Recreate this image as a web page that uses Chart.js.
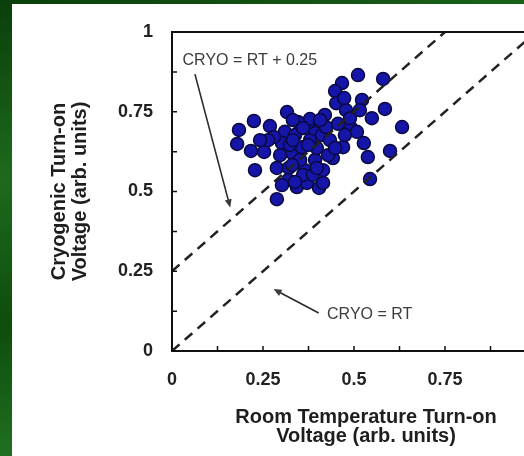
<!DOCTYPE html>
<html>
<head>
<meta charset="utf-8">
<script src="https://cdn.jsdelivr.net/npm/chart.js@4.4.1/dist/chart.umd.min.js"></script>
<style>
  html, body { margin: 0; padding: 0; }
  body {
    width: 524px; height: 456px; overflow: hidden; position: relative;
    background: linear-gradient(165deg, #0a3f0a 0%, #1d6a1d 30%, #0d4d0d 55%, #237523 80%, #0f520f 100%);
  }
  #wrap {
    position: absolute; left: 12px; top: 4px;
    width: 560px; height: 452px; background: #fff;
  }
</style>
</head>
<body>
<div id="wrap"><canvas id="chart"></canvas></div>
<script>
// room temperature turn-on voltage (x) vs cryogenic turn-on voltage (y)
const rtVoltage = [0.184, 0.225, 0.316, 0.269, 0.179, 0.217, 0.253, 0.228, 0.288, 0.288,
  0.310, 0.338, 0.376, 0.302, 0.330, 0.357, 0.393, 0.321, 0.343, 0.371,
  0.365, 0.393, 0.404, 0.511, 0.580, 0.467, 0.448, 0.522, 0.451, 0.478,
  0.585, 0.549, 0.516, 0.632, 0.420, 0.379, 0.456, 0.492, 0.412, 0.470,
  0.527, 0.599, 0.538, 0.544, 0.442, 0.415, 0.398, 0.280, 0.352, 0.319,
  0.434, 0.346, 0.264, 0.379, 0.297, 0.423, 0.489, 0.508, 0.473, 0.360,
  0.324, 0.407, 0.242, 0.302, 0.475, 0.387, 0.332, 0.360, 0.332, 0.374,
  0.429, 0.330, 0.398, 0.338, 0.415, 0.448];
const cryoVoltage = [0.693, 0.721, 0.749, 0.705, 0.649, 0.627, 0.624, 0.567, 0.476, 0.574,
  0.687, 0.677, 0.708, 0.652, 0.621, 0.639, 0.683, 0.574, 0.514, 0.527,
  0.567, 0.599, 0.511, 0.865, 0.853, 0.840, 0.815, 0.787, 0.777, 0.755,
  0.759, 0.730, 0.755, 0.702, 0.740, 0.727, 0.712, 0.699, 0.677, 0.639,
  0.652, 0.627, 0.608, 0.539, 0.605, 0.567, 0.636, 0.671, 0.599, 0.536,
  0.661, 0.718, 0.661, 0.661, 0.614, 0.702, 0.730, 0.687, 0.793, 0.552,
  0.646, 0.724, 0.661, 0.520, 0.677, 0.552, 0.724, 0.699, 0.661, 0.646,
  0.614, 0.583, 0.574, 0.530, 0.527, 0.636];

// reference lines
const equalLine = [[0, 0], [1, 1]];
const offsetLine = [[0, 0.25], [0.75, 1]];

// notes: text, text anchor, arrow start, arrow tip (data units)
const notes = [
  { text: 'CRYO = RT + 0.25', at: [0.029, 0.897], from: [0.063, 0.868], to: [0.160, 0.450] },
  { text: 'CRYO = RT', at: [0.426, 0.101], from: [0.403, 0.119], to: [0.279, 0.194] }
];

const xTitle = ['Room Temperature Turn-on', 'Voltage (arb. units)'];
const yTitle = ['Cryogenic Turn-on', 'Voltage (arb. units)'];

const toPoints = (xs, ys) => xs.map((x, i) => ({ x: x, y: ys[i] }));
const quarterLabel = v => (Math.abs(v * 4 - Math.round(v * 4)) < 1e-9 ? String(v) : '');

function arrow(ctx, x1, y1, x2, y2) {
  const a = Math.atan2(y2 - y1, x2 - x1);
  ctx.beginPath();
  ctx.moveTo(x1, y1);
  ctx.lineTo(x2 - 4 * Math.cos(a), y2 - 4 * Math.sin(a));
  ctx.stroke();
  ctx.beginPath();
  ctx.moveTo(x2, y2);
  ctx.lineTo(x2 - 8 * Math.cos(a) + 3.5 * Math.sin(a), y2 - 8 * Math.sin(a) - 3.5 * Math.cos(a));
  ctx.lineTo(x2 - 8 * Math.cos(a) - 3.5 * Math.sin(a), y2 - 8 * Math.sin(a) + 3.5 * Math.cos(a));
  ctx.closePath();
  ctx.fill();
}

const decor = {
  id: 'decor',
  afterDraw(chart) {
    const ctx = chart.ctx;
    const area = chart.chartArea;
    const xs = chart.scales.x, ys = chart.scales.y;
    ctx.save();

    // frame
    ctx.strokeStyle = '#111';
    ctx.lineWidth = 2;
    ctx.strokeRect(area.left, area.top, area.right - area.left, area.bottom - area.top);

    // inward tick marks
    ctx.lineWidth = 1.5;
    ctx.beginPath();
    ys.ticks.forEach(t => {
      const py = ys.getPixelForValue(t.value);
      ctx.moveTo(area.left, py);
      ctx.lineTo(area.left + 5, py);
    });
    xs.ticks.forEach(t => {
      const px = xs.getPixelForValue(t.value);
      ctx.moveTo(px, area.bottom);
      ctx.lineTo(px, area.bottom - 5);
    });
    ctx.stroke();

    // notes with arrows
    ctx.fillStyle = '#3c3c3c';
    ctx.strokeStyle = '#2a2a2a';
    ctx.lineWidth = 1.6;
    ctx.font = '16px "Liberation Sans", Arial, sans-serif';
    ctx.textAlign = 'left';
    ctx.textBaseline = 'alphabetic';
    notes.forEach(n => {
      ctx.fillText(n.text, xs.getPixelForValue(n.at[0]), ys.getPixelForValue(n.at[1]));
      arrow(ctx,
        xs.getPixelForValue(n.from[0]), ys.getPixelForValue(n.from[1]),
        xs.getPixelForValue(n.to[0]), ys.getPixelForValue(n.to[1]));
    });

    // x axis title
    ctx.fillStyle = '#1e1e1e';
    ctx.font = 'bold 20px "Liberation Sans", Arial, sans-serif';
    ctx.textAlign = 'center';
    const cx = (area.left + area.right) / 2 + 12;
    xTitle.forEach((line, i) => ctx.fillText(line, cx, area.bottom + 72 + i * 19));
    ctx.restore();
  }
};

new Chart(document.getElementById('chart'), {
  type: 'scatter',
  data: {
    datasets: [
      {
        label: 'CRYO = RT',
        data: equalLine.map(p => ({ x: p[0], y: p[1] })),
        showLine: true,
        borderColor: '#222',
        borderWidth: 2.5,
        borderDash: [10, 7],
        pointRadius: 0,
        order: 0
      },
      {
        label: 'CRYO = RT + 0.25',
        data: offsetLine.map(p => ({ x: p[0], y: p[1] })),
        showLine: true,
        borderColor: '#222',
        borderWidth: 2.5,
        borderDash: [10, 7],
        pointRadius: 0,
        order: 0
      },
      {
        label: 'devices',
        data: toPoints(rtVoltage, cryoVoltage),
        backgroundColor: '#1515a8',
        borderColor: '#0a0a40',
        borderWidth: 1.5,
        pointRadius: 6.5,
        order: 1
      }
    ]
  },
  options: {
    responsive: true,
    maintainAspectRatio: false,
    animation: false,
    layout: { padding: { top: 28, right: 36, left: 0, bottom: 0 } },
    plugins: {
      legend: { display: false },
      tooltip: { enabled: false }
    },
    scales: {
      x: {
        type: 'linear',
        min: 0,
        max: 1,
        grid: { display: false },
        border: { display: false },
        ticks: {
          stepSize: 0.125,
          autoSkip: false,
          maxRotation: 0,
          padding: 10,
          color: '#222',
          font: { family: '"Liberation Sans", Arial, sans-serif', size: 18, weight: 'bold' },
          callback: quarterLabel
        },
        afterFit: s => { s.height = 105; }
      },
      y: {
        type: 'linear',
        min: 0,
        max: 1,
        grid: { display: false },
        border: { display: false },
        ticks: {
          stepSize: 0.125,
          autoSkip: false,
          padding: 11,
          color: '#222',
          font: { family: '"Liberation Sans", Arial, sans-serif', size: 18, weight: 'bold' },
          callback: quarterLabel
        },
        title: {
          display: true,
          text: yTitle,
          color: '#1e1e1e',
          padding: { top: 36.5, bottom: 0 },
          font: { family: '"Liberation Sans", Arial, sans-serif', size: 20, weight: 'bold', lineHeight: 1.05 }
        },
        afterFit: s => { s.width = 160; }
      }
    }
  },
  plugins: [decor]
});
</script>
</body>
</html>
